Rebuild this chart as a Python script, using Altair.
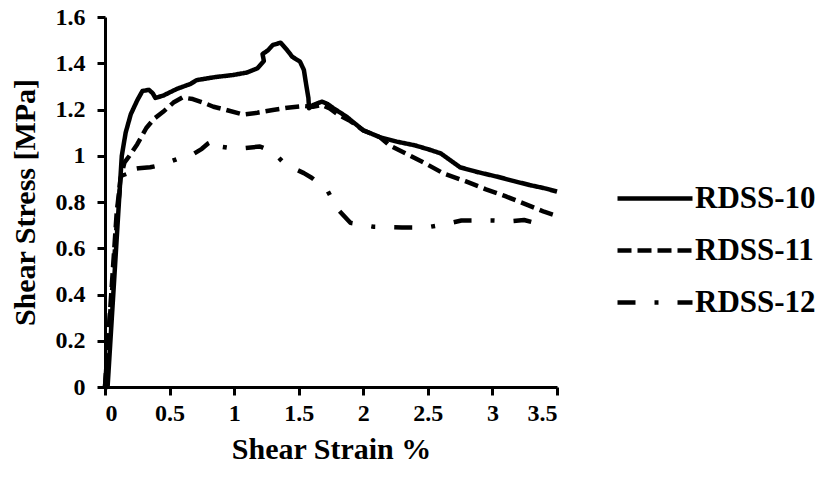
import altair as alt
import pandas as pd

# RDSS-10 (solid)
x10 = [0.0, 0.02, 0.13, 0.16, 0.20, 0.25, 0.29, 0.34, 0.37, 0.39, 0.45, 0.56, 0.66, 0.71, 0.85, 0.99, 1.10,
       1.18, 1.23, 1.22, 1.26, 1.30, 1.36, 1.41, 1.45, 1.51, 1.54, 1.56, 1.575, 1.58, 1.61, 1.68, 1.72, 1.77,
       1.87, 2.00, 2.13, 2.26, 2.40, 2.52, 2.60, 2.65, 2.75, 2.88, 3.04, 3.17, 3.29, 3.40, 3.50]
y10 = [0.0, 0.0, 1.00, 1.10, 1.18, 1.24, 1.28, 1.285, 1.27, 1.25, 1.26, 1.29, 1.31, 1.327, 1.34, 1.349, 1.36,
       1.378, 1.41, 1.44, 1.455, 1.479, 1.489, 1.457, 1.428, 1.407, 1.371, 1.30, 1.25, 1.205, 1.219, 1.234, 1.225, 1.205,
       1.169, 1.11, 1.08, 1.061, 1.045, 1.025, 1.01, 0.99, 0.95, 0.93, 0.909, 0.89, 0.873, 0.86, 0.845]

# RDSS-11 (dashed)
x11 = [0.0, 0.03, 0.06, 0.09, 0.12, 0.15, 0.19, 0.25, 0.32, 0.38, 0.45, 0.53, 0.60, 0.68, 0.76, 0.84, 0.94,
       1.07, 1.18, 1.30, 1.43, 1.54, 1.61, 1.68, 1.74, 1.80, 1.90, 2.00, 2.13, 2.20, 2.33, 2.48, 2.62, 2.79,
       2.95, 3.10, 3.26, 3.40, 3.50]
y11 = [0.0, 0.25, 0.50, 0.75, 0.90, 0.97, 1.00, 1.05, 1.12, 1.16, 1.19, 1.23, 1.252, 1.245, 1.23, 1.212, 1.198,
       1.178, 1.186, 1.198, 1.209, 1.215, 1.212, 1.22, 1.205, 1.18, 1.15, 1.11, 1.08, 1.046, 1.01, 0.967, 0.924, 0.89,
       0.855, 0.825, 0.79, 0.758, 0.74]

# RDSS-12 (dash-dot)
x12 = [0.0, 0.03, 0.06, 0.08, 0.10, 0.12, 0.14, 0.16, 0.20, 0.26, 0.35, 0.43, 0.58, 0.67, 0.75, 0.80, 0.86,
       0.89, 0.95, 1.06, 1.20, 1.30, 1.395, 1.54, 1.60, 1.72, 1.80, 1.90, 2.08, 2.30, 2.49, 2.64, 2.76, 2.89,
       3.00, 3.14, 3.245, 3.33, 3.35, 3.37]
y12 = [0.0, 0.25, 0.45, 0.62, 0.78, 0.88, 0.93, 0.90, 0.94, 0.946, 0.95, 0.96, 0.99, 1.003, 1.03, 1.054, 1.071,
       1.04, 1.035, 1.032, 1.04, 1.017, 0.963, 0.925, 0.905, 0.852, 0.77, 0.71, 0.693, 0.69, 0.69, 0.705, 0.72, 0.72,
       0.72, 0.717, 0.722, 0.71, 0.68, 0.65]

series = ["RDSS-10", "RDSS-11", "RDSS-12"]
dashes = [[1, 0], [14, 6], [18, 19, 4, 19]]
y_ticks = [0, 0.2, 0.4, 0.6, 0.8, 1.0, 1.2, 1.4, 1.6]
x_ticks = [0, 0.5, 1.0, 1.5, 2.0, 2.5, 3.0, 3.5]

rows = []
for name, xs, ys in zip(series, [x10, x11, x12], [y10, y11, y12]):
    for i, (a, b) in enumerate(zip(xs, ys)):
        rows.append({"series": name, "x": a, "y": b, "i": i})
df = pd.DataFrame(rows)

FONT = "Liberation Serif"

chart = alt.Chart(df).mark_line(color="black", strokeWidth=4.5, strokeJoin="round").encode(
    x=alt.X("x:Q", scale=alt.Scale(domain=[0, 3.5], nice=False, zero=False),
            axis=alt.Axis(values=x_ticks, format="~g", title="Shear Strain %", titlePadding=9,
                          labelPadding=6)),
    y=alt.Y("y:Q", scale=alt.Scale(domain=[0, 1.6], nice=False),
            axis=alt.Axis(values=y_ticks, format="~g", title="Shear Stress [MPa]",
                          titleX=-65, titleY=185, labelPadding=12)),
    strokeDash=alt.StrokeDash("series:N", scale=alt.Scale(domain=series, range=dashes),
                              legend=alt.Legend(title=None, orient="none", legendX=510, legendY=166,
                                                symbolType="stroke", symbolSize=5625,
                                                symbolStrokeWidth=4.5, symbolStrokeColor="black",
                                                labelFont=FONT, labelFontSize=31, labelFontWeight="bold",
                                                labelColor="black", labelOffset=0, clipHeight=31,
                                                rowPadding=20, padding=0)),
    detail="series:N",
    order="i:Q",
).properties(
    width=452, height=370,
    background="white",
    padding={"left": 105, "top": 17, "right": 263, "bottom": 90},
    autosize=alt.AutoSizeParams(type="none"),
).configure_view(stroke=None).configure_axis(
    grid=False, domainColor="black", domainWidth=3, tickColor="black", tickWidth=3, tickSize=8,
    labelFont=FONT, labelFontSize=24, labelFontWeight="bold", labelColor="black",
    titleFont=FONT, titleFontSize=30, titleFontWeight="bold", titleColor="black",
)

chart.save("out.html", embed_options={"renderer": "svg", "actions": False})
